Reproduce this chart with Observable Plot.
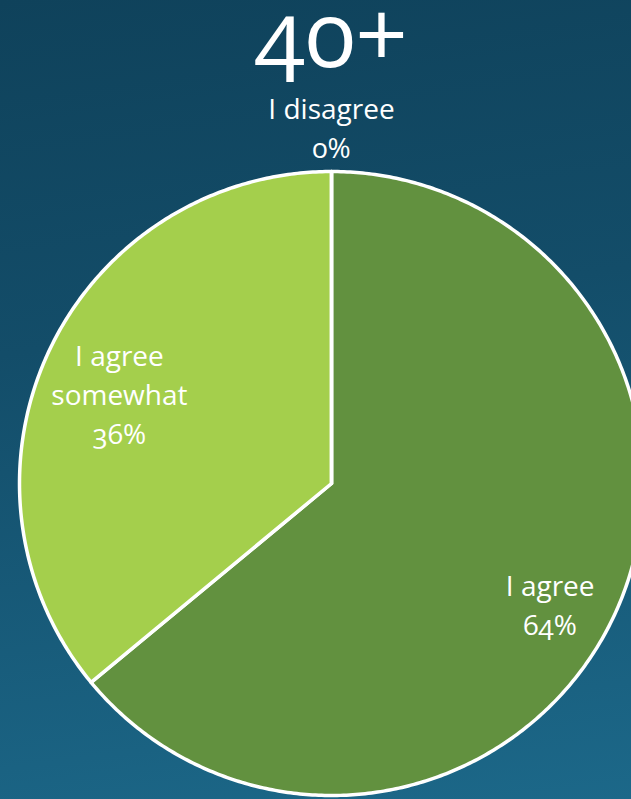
<!DOCTYPE html>
<html><head><meta charset="utf-8">
<script src="https://cdn.jsdelivr.net/npm/d3@7"></script>
<script src="https://cdn.jsdelivr.net/npm/@observablehq/plot@0.6"></script>
<style>
html,body{margin:0;padding:0;}
body{width:631px;height:799px;overflow:hidden;background:linear-gradient(172deg,#0f425b 0%,#134d69 40%,#1c6889 100%);}
#chart svg{display:block;background:transparent;}
</style></head><body><div id="chart"></div>
<script>
// ---- data ----
const title = "40+";
const categories = ["I agree", "I agree somewhat", "I disagree"];
const labelLines = ["I agree", "I agree\nsomewhat", "I disagree"];
const values = [64, 36, 0];
const colors = ["#62913f", "#a4cf4c", "#62913f"];

// ---- layout ----
const W = 631, H = 799;
const cx = 331, cy = 483, R = 312;
const labelLayout = [
  {k: 0.81, dx: -10, dy: 12},
  {k: 0.73, dx: -6, dy: 6},
  {k: 1.146, dx: 0, dy: 0}
];

const table = categories.map((c, i) => ({key: c, label: labelLines[i], value: values[i]}));
const arcs = d3.pie().sort(null).value(d => d.value).startAngle(0).endAngle(2 * Math.PI)(table);

// polygon outline for each slice (center -> arc -> center)
const pts = [];
arcs.forEach(a => {
  const key = a.data.key;
  pts.push({key, x: 0, y: 0});
  const n = Math.max(2, Math.ceil((a.endAngle - a.startAngle) / 0.01));
  for (let j = 0; j <= n; j++) {
    const t = a.startAngle + (a.endAngle - a.startAngle) * j / n;
    pts.push({key, x: Math.sin(t), y: Math.cos(t)});
  }
  pts.push({key, x: 0, y: 0});
});

const labelData = arcs.map((a, i) => {
  const m = (a.startAngle + a.endAngle) / 2;
  const L = labelLayout[i];
  return {text: a.data.label + "\n" + a.data.value + "%", x: Math.sin(m) * L.k, y: Math.cos(m) * L.k, dx: L.dx, dy: L.dy};
});

const chart = Plot.plot({
  width: W, height: H,
  margin: 0,
  x: {domain: [-cx / R, (W - cx) / R], range: [0, W], axis: null},
  y: {domain: [cy / R, -(H - cy) / R], range: [0, H], axis: null},
  color: {domain: categories, range: colors},
  style: {fontFamily: "'Open Sans', sans-serif", background: "transparent", fontVariantNumeric: "oldstyle-nums"},
  marks: [
    Plot.line(pts, {x: "x", y: "y", z: "key", fill: "key", stroke: "white", strokeWidth: 3.5, strokeLinejoin: "round", curve: "linear"}),
    ...labelData.map(d => Plot.text([d], {x: "x", y: "y", text: "text", dx: d.dx, dy: d.dy, fill: "white", fontSize: 28, lineHeight: 1.39, lineAnchor: "middle", textAnchor: "middle"})),
    Plot.text([title], {x: () => 0, frameAnchor: "top", dy: 1, text: d => d, fill: "white", fontSize: 92, lineAnchor: "top", textAnchor: "middle"})
  ]
});
document.getElementById("chart").appendChild(chart);
</script>
</body></html>
